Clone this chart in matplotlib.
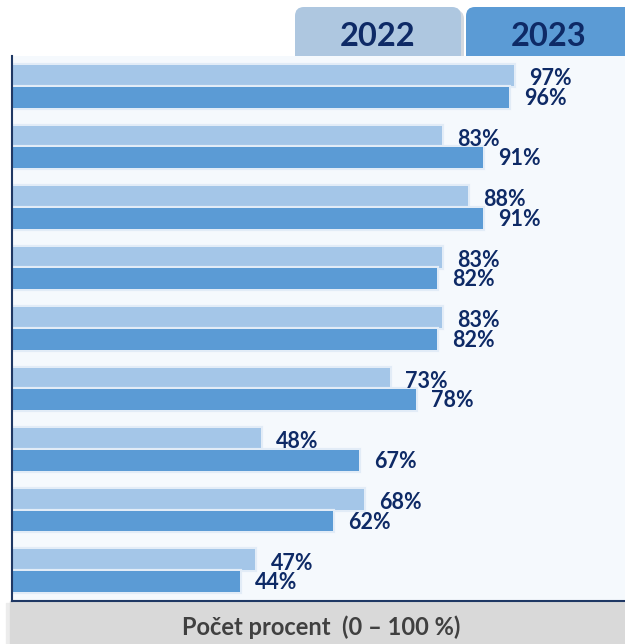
import numpy as np
import matplotlib
matplotlib.use('Agg')
import matplotlib.pyplot as plt
import matplotlib.patheffects as pe
from matplotlib.patches import FancyBboxPatch, Rectangle

# 9 groups, no category labels visible on the chart
groups = ['1', '2', '3', '4', '5', '6', '7', '8', '9']
years = ['2022', '2023']
pct_2022 = [97, 83, 88, 83, 83, 73, 48, 68, 47]
pct_2023 = [96, 91, 91, 82, 82, 78, 67, 62, 44]

col_2022 = '#a4c6e8'
col_2023 = '#5b9bd5'
navy = '#0e2a66'

plt.rcParams['font.family'] = ['Lato', 'DejaVu Sans']

fig = plt.figure(figsize=(6.25, 6.44), dpi=100)
fig.patch.set_facecolor('white')

# decoration layer in pixel coordinates (tabs + bottom band)
deco = fig.add_axes([0, 0, 1, 1], zorder=0)
deco.set_xlim(0, 625)
deco.set_ylim(644, 0)
deco.axis('off')

deco.add_patch(Rectangle((10, 601), 620, 50, color='#d9d9d9', zorder=1))
deco.add_patch(Rectangle((6, 603), 4, 45, color='#ececec', zorder=0))
deco.text(321, 627, 'Počet procent  (0 – 100 %)', ha='center', va='center',
          fontsize=17, fontweight='bold', color='#404040')

tab_specs = [(295, 166, '#aec7e0'), (466, 170, col_2023)]
for (x0, w, c), yr in zip(tab_specs, years):
    deco.add_patch(FancyBboxPatch((x0 + 3, 10), w, 60,
                                  boxstyle='round,pad=0,rounding_size=9',
                                  fc='#d3d9e0', ec='none', zorder=1))
    deco.add_patch(FancyBboxPatch((x0, 7), w, 60,
                                  boxstyle='round,pad=0,rounding_size=9',
                                  fc=c, ec='none', zorder=2))
    deco.text(x0 + 83, 36, yr, ha='center', va='center', fontsize=23.5,
              fontweight='bold', color=navy, zorder=3)

# main chart
ax = fig.add_axes([12 / 625, 43 / 644, 1 - 12 / 625, 545 / 644], zorder=1)
ax.set_facecolor('#f5f9fd')

y = np.arange(len(groups))
h = 0.345
glow = [pe.withStroke(linewidth=3, foreground='#e2ecf7')]
b1 = ax.barh(y - h / 2 - 0.006, pct_2022, height=h, color=col_2022, zorder=2)
b2 = ax.barh(y + h / 2 + 0.006, pct_2023, height=h, color=col_2023, zorder=2)
for b in list(b1) + list(b2):
    b.set_path_effects(glow)

for yi, v in zip(y - h / 2, pct_2022):
    ax.annotate(f'{v}%', (v, yi), xytext=(11, -2), textcoords='offset points',
                ha='left', va='center', fontsize=15.5, fontweight='bold', color=navy)
for yi, v in zip(y + h / 2, pct_2023):
    ax.annotate(f'{v}%', (v, yi), xytext=(11, -1), textcoords='offset points',
                ha='left', va='center', fontsize=15.5, fontweight='bold', color=navy)

ax.set_xlim(0, 118.4)
ax.set_ylim(len(groups) - 0.5, -0.5)
ax.set_xticks([])
ax.set_yticks([])
for s in ['top', 'right']:
    ax.spines[s].set_visible(False)
for s in ['left', 'bottom']:
    ax.spines[s].set_color('#1f3864')
    ax.spines[s].set_linewidth(1.5)

fig.savefig('out.png', dpi=100)
